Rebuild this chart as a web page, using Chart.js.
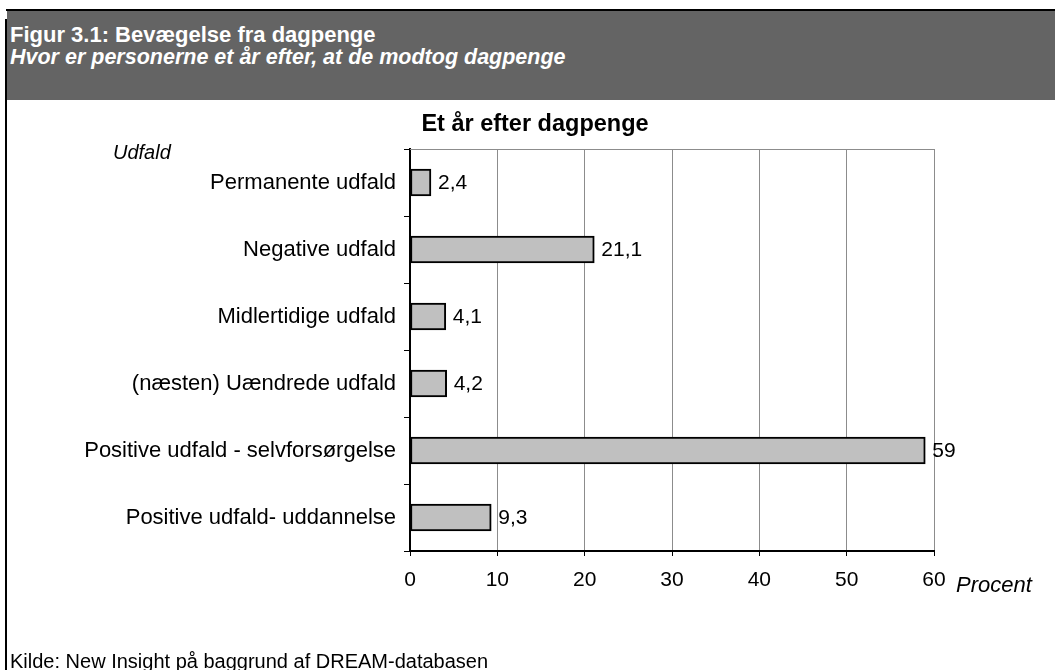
<!DOCTYPE html>
<html>
<head>
<meta charset="utf-8">
<script src="https://cdn.jsdelivr.net/npm/chart.js@4/dist/chart.umd.min.js"></script>
<style>
  html, body { margin:0; padding:0; background:#fff; }
  body { width:1055px; height:670px; position:relative; overflow:hidden; font-family:"Liberation Sans", Arial, sans-serif; }
  #c { position:absolute; left:0; top:0; }
  .abs { position:absolute; white-space:nowrap; line-height:1; }
  #topline { position:absolute; left:6px; top:9px; width:1049px; height:2px; background:#000; }
  #header { position:absolute; left:7px; top:11px; width:1048px; height:89px; background:#646464; }
  #leftline { position:absolute; left:5px; top:19px; width:2px; height:651px; background:#000; }
  .h1 { color:#fff; font-weight:bold; font-size:22px; left:10px; top:24px; }
  .h2 { color:#fff; font-weight:bold; font-style:italic; font-size:21.5px; left:10px; top:47px; }
  .it { font-style:italic; color:#000; }
  .ttl { font-weight:bold; font-size:23.5px; color:#000; left:335px; width:400px; text-align:center; top:112px; }
</style>
</head>
<body>
<canvas id="c" width="1055" height="670"></canvas>
<div id="topline"></div>
<div id="header"></div>
<div id="leftline"></div>
<div class="abs h1">Figur 3.1: Bevægelse fra dagpenge</div>
<div class="abs h2">Hvor er personerne et år efter, at de modtog dagpenge</div>
<div class="abs ttl" id="ttl"></div>
<div class="abs it" style="left:113px; top:142px; font-size:20px;">Udfald</div>
<div class="abs it" style="left:956px; top:574px; font-size:22px;">Procent</div>
<div class="abs" style="left:10px; top:651px; font-size:20px; color:#000;">Kilde: New Insight på baggrund af DREAM-databasen</div>
<script>
const categories = [
  "Permanente udfald",
  "Negative udfald",
  "Midlertidige udfald",
  "(næsten) Uændrede udfald",
  "Positive udfald - selvforsørgelse",
  "Positive udfald- uddannelse"
];
const values = [2.4, 21.1, 4.1, 4.2, 59, 9.3];
const xTicks = [0, 10, 20, 30, 40, 50, 60];
const chartTitle = "Et år efter dagpenge";

document.getElementById('ttl').textContent = chartTitle;

Chart.defaults.color = '#000';
Chart.defaults.font.family = '"Liberation Sans", Arial, sans-serif';

const fmt = v => String(v).replace('.', ',');

const valueLabels = {
  id: 'valueLabels',
  afterDatasetsDraw(chart) {
    const ctx = chart.ctx;
    const meta = chart.getDatasetMeta(0);
    ctx.save();
    ctx.font = '21px "Liberation Sans", Arial, sans-serif';
    ctx.fillStyle = '#000';
    ctx.textAlign = 'left';
    ctx.textBaseline = 'middle';
    meta.data.forEach((bar, i) => {
      ctx.fillText(fmt(values[i]), bar.x + 7, bar.y + 1);
    });
    ctx.restore();
  }
};

const plotTop = {
  id: 'plotTop',
  beforeDatasetsDraw(chart) {
    const a = chart.chartArea, ctx = chart.ctx;
    ctx.save();
    ctx.strokeStyle = '#8c8c8c';
    ctx.lineWidth = 1;
    ctx.beginPath();
    ctx.moveTo(a.left, a.top + 0.5);
    ctx.lineTo(a.right, a.top + 0.5);
    ctx.stroke();
    ctx.restore();
  }
};

new Chart(document.getElementById('c'), {
  type: 'bar',
  data: {
    labels: categories,
    datasets: [{
      data: values,
      backgroundColor: '#c0c0c0',
      borderColor: '#000',
      borderWidth: 2,
      borderSkipped: false,
      barThickness: 27
    }]
  },
  options: {
    indexAxis: 'y',
    responsive: false,
    animation: false,
    layout: { padding: { top: 149, right: 121, bottom: 77, left: 0 } },
    plugins: {
      legend: { display: false },
      tooltip: { enabled: false },
      title: { display: false }
    },
    scales: {
      x: {
        min: xTicks[0],
        max: xTicks[xTicks.length - 1],
        afterBuildTicks: s => { s.ticks = xTicks.map(v => ({ value: v })); },
        afterFit: s => { s.height = 42; },
        ticks: { font: { size: 21 }, padding: 12, color: '#000' },
        grid: {
          color: c => (c.tick && c.tick.value === 0) ? 'rgba(0,0,0,0)' : '#8c8c8c',
          tickColor: '#000',
          tickLength: 5,
          lineWidth: 1
        },
        border: { color: '#000', width: 2 }
      },
      y: {
        afterFit: s => { s.width = 410; },
        ticks: { font: { size: 22 }, padding: 8, color: '#000' },
        grid: {
          drawOnChartArea: false,
          tickColor: '#000',
          tickLength: 6,
          offset: true
        },
        border: { color: '#000', width: 2 }
      }
    }
  },
  plugins: [valueLabels, plotTop]
});
</script>
</body>
</html>
